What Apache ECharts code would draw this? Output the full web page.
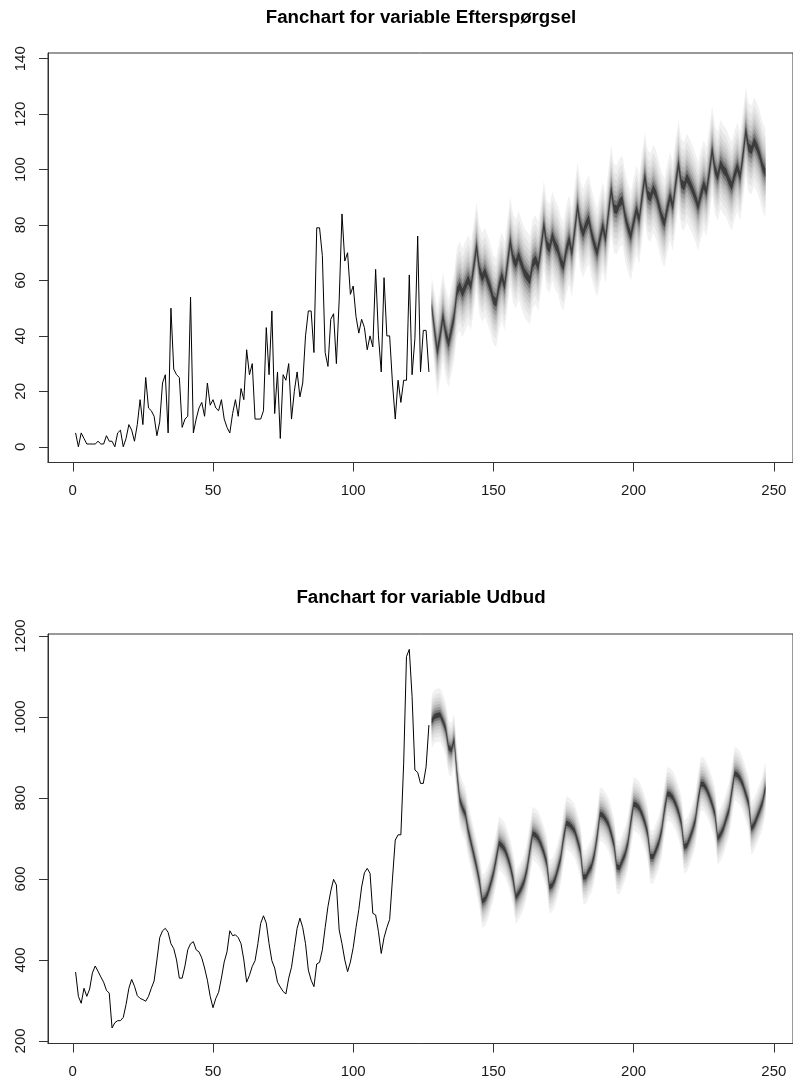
<!DOCTYPE html>
<html>
<head>
<meta charset="utf-8">
<title>Fanchart</title>
<script src="https://cdn.jsdelivr.net/npm/echarts@6/dist/echarts.min.js"></script>
<style>
  html, body { margin: 0; padding: 0; background: #fff; }
  #chart { width: 793px; height: 1084px; }
</style>
</head>
<body>
<div id="chart"></div>
<script>
/* observed series, t = 1..127 */
const efterHist = [
  5, 0, 5, 3, 1, 1, 1, 1, 2, 1, 1, 4, 2, 2, 0, 5, 6, 0, 3, 8,
  6, 2, 8, 17, 8, 25, 14, 13, 11, 4, 9, 23, 26, 5, 50, 28, 26, 25, 7, 10,
  11, 54, 5, 10, 14, 16, 11, 23, 15, 17, 14, 13, 17, 10, 7, 5, 12, 17, 11, 21,
  17, 35, 26, 30, 10, 10, 10, 13, 43, 26, 49, 12, 27, 3, 26, 24, 30, 10, 20, 27,
  18, 23, 40, 49, 49, 34, 79, 79, 69, 34, 29, 46, 48, 30, 53, 84, 67, 70, 55, 58,
  47, 41, 46, 43, 35, 40, 36, 64, 40, 27, 61, 40, 40, 23, 10, 24, 16, 24, 24, 62,
  26, 39, 76, 27, 42, 42, 27
];
const udbudHist = [
  370, 310, 293, 330, 310, 328, 368, 385, 372, 358, 345, 325, 318, 232, 245, 250, 250, 258, 290, 330,
  352, 335, 312, 305, 302, 298, 310, 330, 348, 400, 455, 472, 478, 468, 440, 428, 400, 355, 355, 385,
  425, 440, 445, 425, 420, 405, 380, 350, 310, 282, 305, 320, 355, 395, 420, 472, 460, 462, 455, 440,
  400, 345, 362, 384, 398, 440, 490, 509, 491, 440, 398, 380, 345, 333, 322, 316, 355, 382, 430, 478,
  503, 480, 440, 375, 350, 334, 390, 394, 425, 480, 532, 570, 599, 585, 474, 440, 400, 371, 395, 430,
  480, 524, 580, 615, 626, 614, 515, 511, 470, 416, 455, 480, 500, 600, 696, 709, 709, 886, 1149, 1167,
  1050, 869, 863, 836, 836, 877, 980
];

/* forecast centre, t = 128..247 */
const fcStart = 128;
const efterFc = [
  50.6, 42, 34.4, 40, 47, 41, 37.4, 42, 47, 56, 58, 55.5,
  58, 60.3, 58, 65, 72.3, 64, 61, 63, 60, 57, 53, 52,
  58, 61.5, 58, 66, 74.1, 68, 66, 69, 66, 63, 61.5, 60,
  66, 67.5, 65, 72, 80, 73, 71.5, 76, 73, 71, 67, 65,
  71, 74.7, 70, 78, 86.7, 80, 77, 80, 82, 77, 73, 70,
  75, 79.5, 75, 84, 92.7, 86, 85.5, 88, 89, 83, 79, 76,
  81, 85.5, 82, 90, 97.5, 91, 90, 93, 91, 87, 83, 80.7,
  86, 90.3, 86.7, 95, 102, 95, 94, 97, 95, 92.7, 90, 86.7,
  91, 94.5, 92, 99, 107, 100, 97.5, 102, 100, 98.8, 96, 94,
  98, 101, 97.5, 105, 113.8, 108, 107, 110, 108, 105, 101, 98.8
];
const udbudFc = [
  990, 1001, 1004, 1005, 990, 970, 925, 918, 943, 861, 795, 775,
  760, 720, 690, 660, 630, 595, 545, 550, 565, 588, 614, 650,
  688, 682, 673, 655, 632, 600, 555, 565, 578, 595, 625, 670,
  712, 708, 700, 685, 665, 640, 580, 585, 600, 625, 652, 700,
  738, 735, 728, 718, 695, 670, 605, 605, 620, 632, 660, 705,
  760, 757, 748, 735, 712, 685, 630, 628, 645, 662, 690, 740,
  785, 782, 775, 760, 740, 712, 655, 655, 672, 690, 720, 770,
  810, 808, 800, 785, 765, 738, 680, 683, 700, 720, 745, 795,
  835, 833, 822, 805, 785, 760, 700, 710, 725, 748, 770, 815,
  860, 857, 848, 832, 810, 787, 725, 735, 752, 770, 790, 825
];

/* half-width of the outermost visible band, per forecast step */
const efterSpread = [
  11, 14, 16, 16, 16, 16, 16, 16, 16, 16, 16, 16,
  16, 16, 16, 16, 16, 16, 16, 16, 16, 16, 16, 16,
  16, 16, 16, 16, 16, 16, 16, 16, 16, 16, 16, 16,
  16, 16, 16, 16, 16, 16, 16, 16, 16, 16, 16, 16,
  16, 16, 16, 16, 16, 16, 16, 16, 16, 16, 16, 16,
  16, 16, 16, 16, 16, 16, 16, 16, 16, 16, 16, 16,
  16, 16, 16, 16, 16, 16, 16, 16, 16, 16, 16, 16,
  16, 16, 16, 16, 16, 16, 16, 16, 16, 16, 16, 16,
  16, 16, 16, 16, 16, 16, 16, 16, 16, 16, 16, 16,
  16, 16, 16, 16, 16, 16, 16, 16, 16, 16, 16, 16
];
const udbudSpread = [
  66, 66, 66, 66, 66, 66, 66, 66, 66, 66, 66, 66,
  66, 66, 66, 66, 66, 66, 66, 66, 66, 66, 66, 66,
  66, 66, 66, 66, 66, 66, 66, 66, 66, 66, 66, 66,
  66, 66, 66, 66, 66, 66, 66, 66, 66, 66, 66, 66,
  66, 66, 66, 66, 66, 66, 66, 66, 66, 66, 66, 66,
  66, 66, 66, 66, 66, 66, 66, 66, 66, 66, 66, 66,
  66, 66, 66, 66, 66, 66, 66, 66, 66, 66, 66, 66,
  66, 66, 66, 66, 66, 66, 66, 66, 66, 66, 66, 66,
  66, 66, 66, 66, 66, 66, 66, 66, 66, 66, 66, 66,
  66, 66, 66, 66, 66, 66, 66, 66, 66, 66, 66, 66
];

/* ticks */
const xTicks = [0, 50, 100, 150, 200, 250];
const efterTicks = [0, 20, 40, 60, 80, 100, 120, 140];
const udbudTicks = [200, 400, 600, 800, 1000, 1200];

/* fan levels (normal quantiles of the 80%..10% intervals), widest first */
const fanZ = [1.282, 1.036, 0.842, 0.674, 0.524, 0.385, 0.253, 0.126];
const fanColors = ['#f1f1f1', '#e5e5e5', '#d8d8d8', '#c9c9c9', '#b6b6b6', '#9c9c9c', '#767676', '#3c3c3c'];

const FONT = '"Liberation Sans", Arial, sans-serif';

// one polygon per band, corners mapped through the axes with api.coord
function fanSeries(fc, spread, g) {
	return {
		type: 'custom', xAxisIndex: g, yAxisIndex: g, silent: true,
		data: fanZ.map((z, k) => [fcStart, fc[0]]),
		renderItem: function (params, api) {
			const f = fanZ[params.dataIndex] / fanZ[0];
			const up = [], dn = [];
			fc.forEach(function (v, i) {
				up.push(api.coord([fcStart + i, v + spread[i] * f]));
				dn.push(api.coord([fcStart + i, v - spread[i] * f]));
			});
			return {
				type: 'polygon',
				shape: {points: up.concat(dn.reverse())},
				style: {fill: fanColors[params.dataIndex], stroke: null}
			};
		}
	};
}

function histSeries(vals, g) {
	return {
		type: 'line', xAxisIndex: g, yAxisIndex: g, symbol: 'none', silent: true,
		data: vals.map((v, i) => [i + 1, v]),
		lineStyle: {color: '#000', width: 1}, z: 5
	};
}

function xAxisOf(g) {
	return {
		type: 'value', gridIndex: g, min: -8.84, max: 256.84,
		splitLine: {show: false},
		axisLine: {show: true, onZero: false, lineStyle: {color: '#333'}},
		axisTick: {customValues: xTicks, length: 9, lineStyle: {color: '#333'}},
		axisLabel: {customValues: xTicks, margin: 21, fontSize: 15, fontFamily: FONT, color: '#1a1a1a',
			formatter: v => String(v)}
	};
}

function yAxisOf(g, lo, hi, ticks) {
	return {
		type: 'value', gridIndex: g, min: lo, max: hi,
		splitLine: {show: false},
		axisLine: {show: true, onZero: false, lineStyle: {color: '#333'}},
		axisTick: {customValues: ticks, length: 9, lineStyle: {color: '#333'}},
		axisLabel: {customValues: ticks, rotate: 90, margin: 20, fontSize: 15, fontFamily: FONT, color: '#1a1a1a',
			formatter: v => String(v)}
	};
}

const chart = echarts.init(document.getElementById('chart'));

chart.setOption({
	animation: false,
	backgroundColor: '#fff',
	title: [
		{
			text: 'Fanchart for variable Efterspørgsel', left: 421, top: 8, textAlign: 'center', padding: 0,
			textStyle: {fontFamily: FONT, fontSize: 18.7, fontWeight: 'bold', color: '#000'}
		},
		{
			text: 'Fanchart for variable Udbud', left: 421, top: 588, textAlign: 'center', padding: 0,
			textStyle: {fontFamily: FONT, fontSize: 18.7, fontWeight: 'bold', color: '#000'}
		}
	],
	grid: [
		{left: 48, right: -4, top: 53, height: 409.5, show: true, borderColor: '#333', borderWidth: 1},
		{left: 48, right: -4, top: 634, height: 409.5, show: true, borderColor: '#333', borderWidth: 1}
	],
	xAxis: [xAxisOf(0), xAxisOf(1)],
	yAxis: [
		yAxisOf(0, -5.67, 142.06, efterTicks),
		yAxisOf(1, 193.6, 1204.9, udbudTicks)
	],
	series: [
		fanSeries(efterFc, efterSpread, 0),
		histSeries(efterHist, 0),
		fanSeries(udbudFc, udbudSpread, 1),
		histSeries(udbudHist, 1)
	]
});
</script>
</body>
</html>
